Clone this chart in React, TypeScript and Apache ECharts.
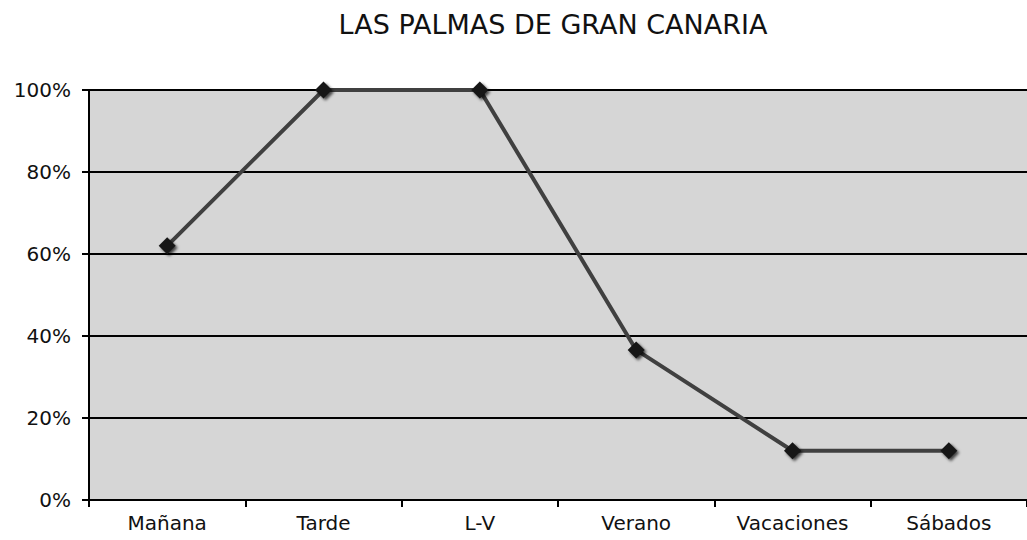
import React, { useEffect, useRef } from "react";
import * as echarts from "echarts";

const categories = ["Mañana", "Tarde", "L-V", "Verano", "Vacaciones", "Sábados"];
const values = [0.62, 1.0, 1.0, 0.366, 0.12, 0.12];
const title = "LAS PALMAS DE GRAN CANARIA";

export default function App() {
  const ref = useRef<HTMLDivElement>(null);
  useEffect(() => {
    const chart = echarts.init(ref.current!, undefined, { renderer: "svg" });
    const font = "Verdana, 'DejaVu Sans', sans-serif";
    chart.setOption({
      animation: false,
      backgroundColor: "#ffffff",
      title: {
        text: title,
        left: 548,
        textAlign: "center",
        top: 6,
        textStyle: { fontFamily: font, fontSize: 27, fontWeight: "normal", color: "#111" },
      },
      grid: {
        left: 89,
        width: 945,
        top: 90,
        height: 410,
        show: true,
        backgroundColor: "#d6d6d6",
        borderWidth: 0,
      },
      xAxis: {
        type: "category",
        data: categories,
        boundaryGap: true,
        axisLine: { show: true, lineStyle: { color: "#000", width: 2 } },
        axisTick: { show: true, length: 7, lineStyle: { color: "#000", width: 2 } },
        axisLabel: { fontFamily: font, fontSize: 20, color: "#111", margin: 13 },
      },
      yAxis: {
        type: "value",
        min: 0,
        max: 1,
        interval: 0.2,
        axisLine: { show: true, lineStyle: { color: "#000", width: 2 } },
        axisTick: { show: true, length: 7, lineStyle: { color: "#000", width: 2 } },
        axisLabel: {
          fontFamily: font,
          fontSize: 20,
          color: "#111",
          margin: 18,
          formatter: (v: number) => Math.round(v * 100) + "%",
        },
        splitLine: {
          show: true,
          lineStyle: { color: "#000", width: 2 },
        },
      },
      series: [
        {
          type: "line",
          data: values,
          symbol: "diamond",
          symbolSize: 17,
          lineStyle: { color: "#404040", width: 4 },
          itemStyle: {
            color: "#151515",
            borderWidth: 0,
            shadowBlur: 3,
            shadowOffsetX: 2,
            shadowOffsetY: 2,
            shadowColor: "rgba(0,0,0,0.7)",
          },
          z: 5,
        },
      ],
    });
    return () => chart.dispose();
  }, []);
  return <div ref={ref} style={{ width: 1027, height: 540, position: "absolute", left: 0, top: 0 }} />;
}
